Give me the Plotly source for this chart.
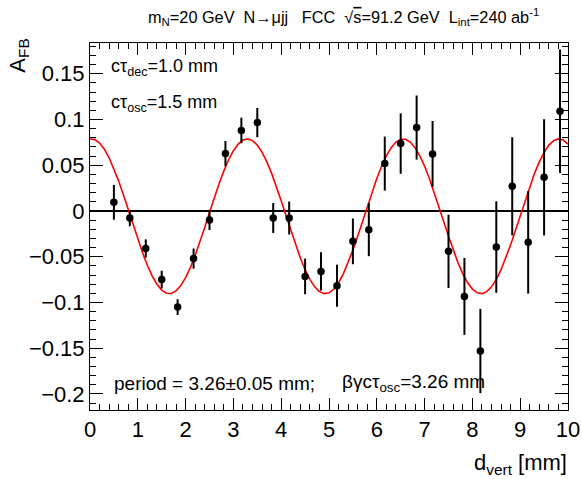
import numpy as np
import plotly.graph_objects as go

# Data points (bin centres, asymmetry, errors)
d_vert = [0.5, 0.833, 1.167, 1.5, 1.833, 2.167, 2.5, 2.833, 3.167,
          3.5, 3.833, 4.167, 4.5, 4.833, 5.167, 5.5, 5.833, 6.167, 6.5,
          6.833, 7.167, 7.5, 7.833, 8.167, 8.5, 8.833, 9.167, 9.5, 9.833]
a_fb = [0.0095, -0.0077, -0.041, -0.075, -0.105, -0.052, -0.0098, 0.0627, 0.088,
        0.0966, -0.0077, -0.0077, -0.0715, -0.066, -0.0817, -0.0332, -0.0204, 0.0518, 0.0737,
        0.0912, 0.0624, -0.0441, -0.0934, -0.153, -0.0394, 0.027, -0.0343, 0.0368, 0.109]
a_err = [0.019, 0.009, 0.010, 0.0097, 0.0086, 0.011, 0.011, 0.0137, 0.014,
         0.016, 0.0164, 0.018, 0.0195, 0.021, 0.023, 0.025, 0.029, 0.0295, 0.033,
         0.035, 0.036, 0.040, 0.042, 0.046, 0.050, 0.0536, 0.056, 0.0635, 0.0675]

# Fit parameters (cosine fit)
fit_period = 3.26
fit_amp = 0.0846
fit_offset = -0.0058
fit_peak = 0.03
fit_x = np.linspace(0, 10, 101)
fit_y = fit_offset + fit_amp * np.cos(2 * np.pi * (fit_x - fit_peak) / fit_period)

x_ticks = list(range(0, 11))
y_tickvals = [-0.2, -0.15, -0.1, -0.05, 0, 0.05, 0.1, 0.15]
y_ticktext = ["\u22120.2", "\u22120.15", "\u22120.1", "\u22120.05", "0", "0.05", "0.1", "0.15"]

FONT = "Liberation Sans, Arial, Helvetica, sans-serif"

fig = go.Figure()
fig.add_trace(go.Scatter(
    x=fit_x, y=fit_y, mode="lines",
    line=dict(color="#ff0000", width=1.6), showlegend=False, hoverinfo="skip"))
fig.add_trace(go.Scatter(
    x=d_vert, y=a_fb, mode="markers",
    marker=dict(color="black", size=7.5),
    error_y=dict(type="data", array=a_err, color="black", thickness=2, width=0),
    showlegend=False))

fig.update_layout(
    width=582, height=479,
    margin=dict(l=90, r=14, t=43, b=69),
    paper_bgcolor="white", plot_bgcolor="white",
    font=dict(family=FONT, color="black", size=17),
    xaxis=dict(range=[0, 10], tickvals=x_ticks, ticks="inside", ticklen=12,
               tickcolor="black", showline=True, linecolor="black", linewidth=1,
               mirror="ticks", showgrid=False, zeroline=False, automargin=False,
               tickfont=dict(size=22),
               minor=dict(ticks="inside", ticklen=6, dtick=0.2, tickcolor="black", showgrid=False)),
    yaxis=dict(range=[-0.2175, 0.1836], tickvals=y_tickvals, ticktext=y_ticktext,
               ticks="inside", ticklen=13, tickcolor="black",
               showline=True, linecolor="black", linewidth=1, mirror="ticks",
               showgrid=False, zeroline=True, zerolinecolor="black", zerolinewidth=1.5,
               tickfont=dict(size=22), automargin=False,
               minor=dict(ticks="inside", ticklen=6, dtick=0.01, tickcolor="black", showgrid=False)),
)

annots = [
    dict(text="m<sub>N</sub>=20 GeV  N\u2192\u03bcjj   FCC  \u221a<span style=\"text-decoration:overline\">s</span>=91.2 GeV  L<sub>int</sub>=240 ab<sup>-1</sup>",
         xref="paper", yref="paper", x=0.531, y=1.071, xanchor="center", yanchor="middle",
         font=dict(size=16.3)),
    dict(text="A<sub>FB</sub>", xref="paper", yref="paper", x=-0.148, y=1.018,
         xanchor="center", yanchor="top", textangle=-90, font=dict(size=22)),
    dict(text="d<sub>vert</sub> [mm]", xref="paper", yref="paper", x=1.003, y=-0.147,
         xanchor="right", yanchor="middle", font=dict(size=22)),
    dict(text="c\u03c4<sub>dec</sub>=1.0 mm", xref="x", yref="y", x=0.4, y=0.157,
         xanchor="left", yanchor="middle", font=dict(size=18)),
    dict(text="c\u03c4<sub>osc</sub>=1.5 mm", xref="x", yref="y", x=0.4, y=0.117,
         xanchor="left", yanchor="middle", font=dict(size=18)),
    dict(text="period = 3.26\u00b10.05 mm;", xref="x", yref="y", x=0.45, y=-0.188,
         xanchor="left", yanchor="middle", font=dict(size=19)),
    dict(text="\u03b2\u03b3c\u03c4<sub>osc</sub>=3.26 mm", xref="x", yref="y", x=5.24, y=-0.188,
         xanchor="left", yanchor="middle", font=dict(size=19)),
]
fig.update_layout(annotations=[dict(showarrow=False, **a) for a in annots])

fig.write_html("out.html", config={"displayModeBar": False},
               post_script="document.body.style.margin='0px';document.body.style.overflow='hidden';")
